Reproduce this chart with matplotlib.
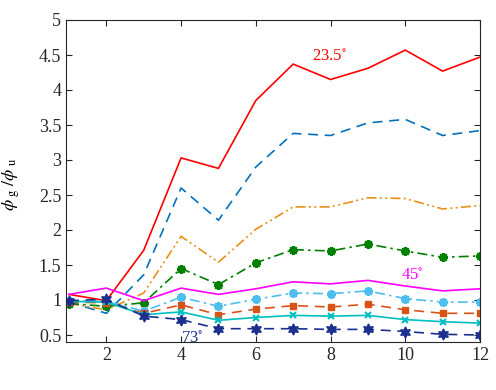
import matplotlib
matplotlib.use("Agg")
import matplotlib.pyplot as plt

plt.rcParams['font.family'] = ['Liberation Serif', 'DejaVu Serif']
plt.rcParams['mathtext.fontset'] = 'stix'

x = list(range(1, 13))
s_235 = [1.08, 0.99, 1.71, 3.03, 2.88, 3.85, 4.37, 4.15, 4.31, 4.57, 4.27, 4.47]
s_b = [0.97, 0.81, 1.36, 2.60, 2.14, 2.90, 3.38, 3.35, 3.53, 3.58, 3.35, 3.42]
s_o = [0.95, 0.86, 1.10, 1.91, 1.54, 2.01, 2.33, 2.33, 2.46, 2.45, 2.30, 2.35]
s_g = [0.95, 0.91, 0.96, 1.45, 1.22, 1.53, 1.72, 1.70, 1.80, 1.70, 1.61, 1.63]
s_45 = [1.08, 1.17, 0.99, 1.17, 1.08, 1.16, 1.26, 1.23, 1.28, 1.20, 1.13, 1.16]
s_lb = [0.99, 0.98, 0.84, 1.04, 0.91, 1.01, 1.10, 1.09, 1.13, 1.02, 0.97, 0.97]
s_r = [0.97, 0.96, 0.81, 0.93, 0.79, 0.87, 0.92, 0.90, 0.94, 0.86, 0.81, 0.81]
s_c = [0.98, 0.97, 0.79, 0.83, 0.71, 0.75, 0.78, 0.77, 0.78, 0.72, 0.69, 0.67]
s_73 = [0.99, 1.01, 0.77, 0.72, 0.59, 0.59, 0.59, 0.58, 0.58, 0.55, 0.51, 0.50]

fig = plt.figure(figsize=(4.96, 3.9), dpi=100)
ax = fig.add_axes([66/496, 1-342/390, (480-66)/496, (342-20)/390])

ax.plot(x, s_235, color='#FF0000', lw=1.2, ls='-')
ax.plot(x, s_b, color='#0072BD', lw=1.2, ls=(0, (6, 4)))
ax.plot(x, s_o, color='#E8901A', lw=1.2, ls=(0, (6, 2, 1.2, 2, 1.2, 2)))
ax.plot(x, s_g, color='#008000', lw=1.2, ls=(0, (6, 2.5, 1.5, 2.5)), marker=(8, 2, 0), ms=6.5, mew=1.5)
ax.plot(x, s_45, color='#FF00FF', lw=1.2, ls='-')
ax.plot(x, s_lb, color='#4DBEEE', lw=1.2, ls=(0, (6, 2.5, 1.5, 2.5)), marker=(8, 2, 0), ms=6.5, mew=1.5)
ax.plot(x, s_r, color='#D95319', lw=1.2, ls=(0, (6, 4)), marker='s', ms=5)
ax.plot(x, s_c, color='#00BFBF', lw=1.2, ls='-', marker='x', ms=4.5, mew=1.5)
ax.plot(x, s_73, color='#1B2F8F', lw=1.2, ls=(0, (6, 4)))
ax.plot(x, s_73, color='#1B2F8F', lw=0, marker=(6, 1, 0), ms=8)

ax.text(7.98, 4.47, r'23.5$^{\circ}$', color='#FF0000', fontsize=12, ha='center', va='center')
ax.text(10.18, 1.34, r'45$^{\circ}$', color='#FF00FF', fontsize=12, ha='center', va='center')
ax.text(4.3, 0.44, r'73$^{\circ}$', color='#1B2F8F', fontsize=12, ha='center', va='center')

ax.set_xlim(0.92, 12)
ax.set_ylim(0.4, 5)
ax.set_xticks([2, 4, 6, 8, 10, 12])
ax.set_yticks([0.5, 1, 1.5, 2, 2.5, 3, 3.5, 4, 4.5, 5])
ax.set_yticklabels(['0.5', '1', '1.5', '2', '2.5', '3', '3.5', '4', '4.5', '5'])
ax.tick_params(direction='in', top=True, right=True, labelsize=13, length=4, colors='#262626')
for sp in ax.spines.values():
    sp.set_color('#262626')
    sp.set_linewidth(0.8)
ax.set_ylabel(r'$\phi_{\ \rm g}\ /\phi_{\ \rm u}$', fontsize=13)
ax.yaxis.set_label_coords(-44/414, 0.49)

fig.savefig('out.png', dpi=100)
